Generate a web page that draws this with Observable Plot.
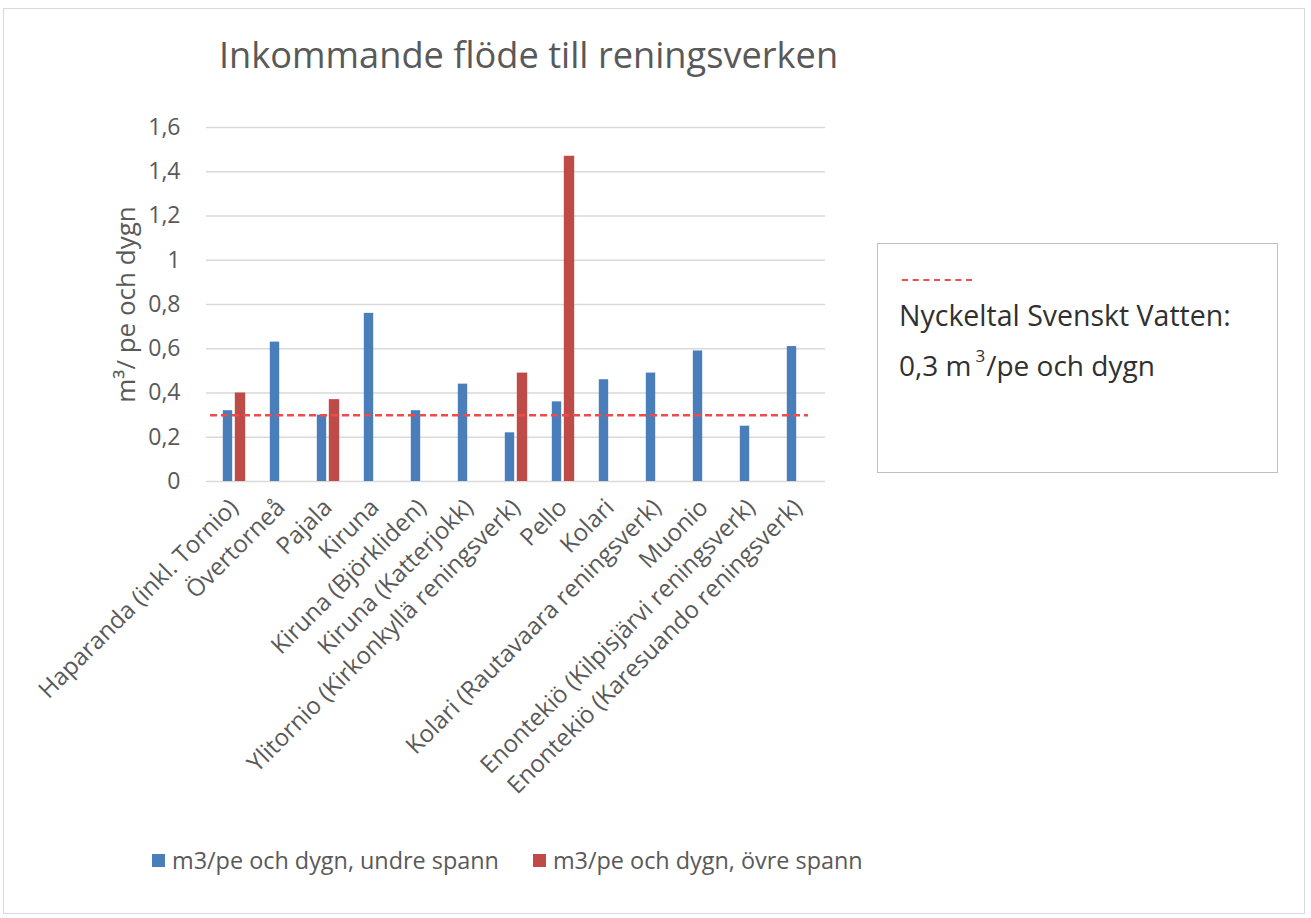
<!DOCTYPE html>
<html>
<head>
<meta charset="utf-8">
<script src="https://cdn.jsdelivr.net/npm/d3@7"></script>
<script src="https://cdn.jsdelivr.net/npm/@observablehq/plot@0.6"></script>
<style>
  html, body { margin: 0; padding: 0; background: #fff; }
  body { width: 1311px; height: 918px; position: relative; overflow: hidden; font-family: "Open Sans", sans-serif; }
  #frame { position: absolute; left: 3px; top: 8px; width: 1302px; height: 906px; border: 1.5px solid #d9d9d9; box-sizing: border-box; }
  #title { position: absolute; left: 219px; top: 29px; font-size: 36.2px; color: #595959; font-weight: 400; white-space: nowrap; }
  #chart { position: absolute; left: 0; top: 100px; }
  #legend { position: absolute; left: 152px; top: 844px; font-size: 23.4px; color: #595959; white-space: nowrap; display: flex; align-items: center; }
  #legend .sw { display: inline-block; width: 13px; height: 13px; margin-right: 7px; }
  #legend .item { display: flex; align-items: center; margin-right: 34px; }
  #box { position: absolute; left: 877px; top: 243px; width: 401px; height: 230px; border: 1.5px solid #bfbfbf; box-sizing: border-box; background: #fff; }
  #box .dash { position: absolute; left: 24px; top: 35px; width: 70px; height: 0; border-top: 2px dashed #e85050; }
  #box .t1 { position: absolute; left: 21px; top: 52px; font-size: 28.5px; color: #303030; white-space: nowrap; }
  #box .t2 { position: absolute; left: 21px; top: 102px; font-size: 28px; color: #303030; white-space: nowrap; }
  #box sup { font-size: 17px; vertical-align: 14px; margin: 0 1px 0 4px; line-height: 0; }
</style>
</head>
<body>
<div id="frame"></div>
<div id="title">Inkommande flöde till reningsverken</div>
<div id="chart"></div>
<div id="box">
  <div class="dash"></div>
  <div class="t1">Nyckeltal Svenskt Vatten:</div>
  <div class="t2">0,3 m<sup>3</sup>/pe och dygn</div>
</div>
<div id="legend"></div>
<script>
const categories = [
  "Haparanda (inkl. Tornio)",
  "Övertorneå",
  "Pajala",
  "Kiruna",
  "Kiruna (Björkliden)",
  "Kiruna (Katterjokk)",
  "Ylitornio (Kirkonkyllä reningsverk)",
  "Pello",
  "Kolari",
  "Kolari (Rautavaara reningsverk)",
  "Muonio",
  "Enontekiö (Kilpisjärvi reningsverk)",
  "Enontekiö (Karesuando reningsverk)"
];
const undreSpann = [0.32, 0.63, 0.30, 0.76, 0.32, 0.44, 0.22, 0.36, 0.46, 0.49, 0.59, 0.25, 0.61];
const ovreSpann  = [0.40, null, 0.37, null, null, null, 0.49, 1.47, null, null, null, null, null];
const seriesNames = ["m3/pe och dygn, undre spann", "m3/pe och dygn, övre spann"];
const seriesColors = ["#4a7ebb", "#be4b48"];
const nyckeltal = 0.3;
const yTicks = [0, 0.2, 0.4, 0.6, 0.8, 1, 1.2, 1.4, 1.6];
const yLabel = "m³/ pe och dygn";

const undreRows = categories.map((c, i) => ({cat: c, v: undreSpann[i]}));
const ovreRows = categories.map((c, i) => ({cat: c, v: ovreSpann[i]})).filter(d => d.v != null);

const width = 860, height = 720;
const marginLeft = 206, marginRight = 35, marginTop = 27, marginBottom = 339;
const band = (width - marginLeft - marginRight) / categories.length;
const half = band / 2;

const fmt = d => String(d).replace(".", ",");

const plot = Plot.plot({
  width, height, marginLeft, marginRight, marginTop, marginBottom,
  style: {fontFamily: "'Open Sans', sans-serif", color: "#595959", background: "transparent", overflow: "visible"},
  x: {type: "band", domain: categories, padding: 0},
  y: {domain: [0, 1.6]},
  marks: [
    Plot.gridY(yTicks, {stroke: "#d9d9d9", strokeOpacity: 1, strokeWidth: 1.3}),
    Plot.axisY(yTicks, {tickSize: 0, tickPadding: 26, tickFormat: fmt, fontSize: 23, label: null, fill: "#595959"}),
    Plot.axisX({tickSize: 0, tickRotate: -45, fontSize: 24, label: null, tickPadding: 22, fill: "#595959"}),
    Plot.text([yLabel], {frameAnchor: "left", textAnchor: "middle", rotate: -90, dx: -80, fontSize: 26, fill: "#595959"}),
    Plot.barY(undreRows, {x: "cat", y: "v", fill: seriesColors[0], insetLeft: half - 11, insetRight: half + 1}),
    Plot.barY(ovreRows, {x: "cat", y: "v", fill: seriesColors[1], insetLeft: half + 1, insetRight: half - 12}),
    Plot.ruleY([nyckeltal], {stroke: "#f04a4a", strokeWidth: 2.5, strokeDasharray: "7,4", insetLeft: 4, insetRight: 17})
  ]
});
document.getElementById("chart").appendChild(plot);

const legend = document.getElementById("legend");
seriesNames.forEach((name, i) => {
  const span = document.createElement("span");
  span.className = "item";
  span.innerHTML = `<span class="sw" style="background:${seriesColors[i]}"></span><span>${name}</span>`;
  legend.appendChild(span);
});
</script>
</body>
</html>
